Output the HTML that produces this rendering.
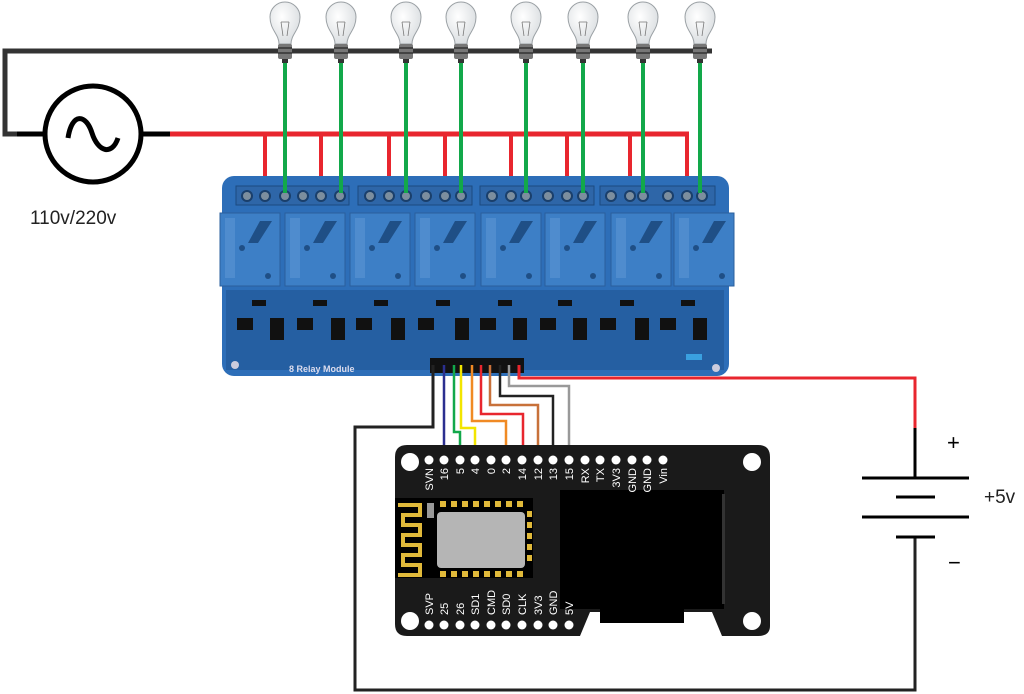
<!DOCTYPE html>
<html><head><meta charset="utf-8"><style>
html,body{margin:0;padding:0;background:#fff;}
svg{display:block;}
text{font-family:"Liberation Sans",sans-serif;}
</style></head><body>
<svg width="1024" height="694" viewBox="0 0 1024 694" xmlns="http://www.w3.org/2000/svg">
<defs>
<radialGradient id="glass" cx="0.4" cy="0.35" r="0.7"><stop offset="0" stop-color="#fff"/><stop offset="1" stop-color="#d8dcdf"/></radialGradient>
<g id="bulb">
 <path d="M-6,42 C-6,32 -15,28 -15,15 A15,15 0 1 1 15,15 C15,28 6,32 6,42 Z" fill="url(#glass)" stroke="#9aa0a4" stroke-width="1"/>
 <path d="M-4,20 L-2,34 M4,20 L2,34 M-4,20 L4,20" stroke="#777" stroke-width="0.8" fill="none"/>
 <rect x="-7" y="42" width="14" height="15" fill="#777" rx="2"/>
 <rect x="-7" y="45" width="14" height="2" fill="#444"/>
 <rect x="-7" y="50" width="14" height="2" fill="#444"/>
 <rect x="-3" y="57" width="6" height="4" fill="#333"/>
</g>
<g id="relay">
 <rect x="0" y="0" width="60" height="73" fill="#3d7fc6" stroke="#2a5f9c" stroke-width="1"/>
 <circle cx="22" cy="35" r="3" fill="#1f4f86"/>
 <circle cx="48" cy="63" r="3" fill="#1f4f86"/>
 <path d="M40,8 L52,8 L38,30 L28,30 Z" fill="#1f4f86"/>
 <rect x="5" y="5" width="10" height="60" fill="#5c95d4" opacity="0.6"/>
</g>
<g id="screw"><circle r="6" fill="#1a3f6b"/><circle r="4" fill="#7c8e9e"/></g>
</defs>

<path d="M712,51 H5 V134 H45" stroke="#333" stroke-width="5" fill="none"/>
<circle cx="93" cy="134" r="48" fill="#fff" stroke="#000" stroke-width="5"/>
<path d="M68,138 C72,112 86,114 92,133 C98,152 112,156 118,138" stroke="#000" stroke-width="5" fill="none"/>
<line x1="17" y1="134" x2="45" y2="134" stroke="#000" stroke-width="5"/>
<line x1="141" y1="134" x2="171" y2="134" stroke="#000" stroke-width="5"/>
<line x1="170" y1="134" x2="689" y2="134" stroke="#e8262e" stroke-width="5"/>
<text x="30" y="224" font-size="19" fill="#222">110v/220v</text>

<g stroke="#e8262e" stroke-width="4">
<line x1="265" y1="134" x2="265" y2="192"/><line x1="321" y1="134" x2="321" y2="192"/>
<line x1="389" y1="134" x2="389" y2="192"/><line x1="445" y1="134" x2="445" y2="192"/>
<line x1="511" y1="134" x2="511" y2="192"/><line x1="567" y1="134" x2="567" y2="192"/>
<line x1="630" y1="134" x2="630" y2="192"/><line x1="687" y1="134" x2="687" y2="192"/>
</g>

<rect x="222" y="176" width="507" height="200" rx="12" fill="#2d6eb8"/>
<rect x="226" y="290" width="498" height="80" fill="#1d4f8c" opacity="0.5"/>
<g fill="#2e66a8" stroke="#1c4a80">
<rect x="236" y="186" width="113" height="19"/><rect x="358" y="186" width="114" height="19"/>
<rect x="480" y="186" width="114" height="19"/><rect x="600" y="186" width="115" height="19"/>
</g>
<g>
<use href="#screw" x="247" y="196"/><use href="#screw" x="265" y="196"/><use href="#screw" x="285" y="196"/>
<use href="#screw" x="303" y="196"/><use href="#screw" x="321" y="196"/><use href="#screw" x="340" y="196"/>
<use href="#screw" x="370" y="196"/><use href="#screw" x="389" y="196"/><use href="#screw" x="406" y="196"/>
<use href="#screw" x="426" y="196"/><use href="#screw" x="445" y="196"/><use href="#screw" x="461" y="196"/>
<use href="#screw" x="492" y="196"/><use href="#screw" x="511" y="196"/><use href="#screw" x="526" y="196"/>
<use href="#screw" x="548" y="196"/><use href="#screw" x="567" y="196"/><use href="#screw" x="583" y="196"/>
<use href="#screw" x="611" y="196"/><use href="#screw" x="630" y="196"/><use href="#screw" x="643" y="196"/>
<use href="#screw" x="668" y="196"/><use href="#screw" x="687" y="196"/><use href="#screw" x="702" y="196"/>
</g>
<use href="#relay" x="220" y="213"/><use href="#relay" x="285" y="213"/>
<use href="#relay" x="350" y="213"/><use href="#relay" x="415" y="213"/>
<use href="#relay" x="481" y="213"/><use href="#relay" x="545" y="213"/>
<use href="#relay" x="611" y="213"/><use href="#relay" x="674" y="213"/>
<g fill="#111">
<rect x="270" y="318" width="14" height="22"/><rect x="331" y="318" width="14" height="22"/>
<rect x="391" y="318" width="14" height="22"/><rect x="455" y="318" width="14" height="22"/>
<rect x="513" y="318" width="14" height="22"/><rect x="573" y="318" width="14" height="22"/>
<rect x="635" y="318" width="14" height="22"/><rect x="693" y="318" width="14" height="22"/>
<rect x="237" y="318" width="16" height="12"/><rect x="297" y="318" width="16" height="12"/>
<rect x="356" y="318" width="16" height="12"/><rect x="418" y="318" width="16" height="12"/>
<rect x="480" y="318" width="16" height="12"/><rect x="540" y="318" width="16" height="12"/>
<rect x="600" y="318" width="16" height="12"/><rect x="660" y="318" width="16" height="12"/>
<rect x="252" y="300" width="14" height="6"/><rect x="313" y="300" width="14" height="6"/>
<rect x="374" y="300" width="14" height="6"/><rect x="436" y="300" width="14" height="6"/>
<rect x="498" y="300" width="14" height="6"/><rect x="558" y="300" width="14" height="6"/>
<rect x="620" y="300" width="14" height="6"/><rect x="681" y="300" width="14" height="6"/>
</g>
<circle cx="235" cy="365" r="4" fill="#ccd" /><circle cx="716" cy="368" r="4" fill="#ccd"/>
<text x="289" y="372" font-size="9" font-weight="bold" fill="#dde" font-family="Liberation Mono">8 Relay Module</text>
<rect x="430" y="358" width="94" height="15" fill="#111"/>
<rect x="686" y="354" width="16" height="6" fill="#3aa0e0"/>

<g stroke="#12a84a" stroke-width="4">
<line x1="285" y1="60" x2="285" y2="193"/><line x1="341" y1="60" x2="341" y2="193"/>
<line x1="406" y1="60" x2="406" y2="193"/><line x1="461" y1="60" x2="461" y2="193"/>
<line x1="526" y1="60" x2="526" y2="193"/><line x1="583" y1="60" x2="583" y2="193"/>
<line x1="643" y1="60" x2="643" y2="193"/><line x1="700" y1="60" x2="700" y2="193"/>
</g>
<use href="#bulb" x="285" y="2"/><use href="#bulb" x="341" y="2"/>
<use href="#bulb" x="406" y="2"/><use href="#bulb" x="461" y="2"/>
<use href="#bulb" x="526" y="2"/><use href="#bulb" x="583" y="2"/>
<use href="#bulb" x="643" y="2"/><use href="#bulb" x="700" y="2"/>

<g fill="none" stroke-width="2.5">
<path d="M433,365 V427 H355 V690 H915 V537" stroke="#222" stroke-width="3"/>
<path d="M444,365 V458" stroke="#2b2f8f"/>
<path d="M454,365 V432 H460 V458" stroke="#12a84a"/>
<path d="M461,365 V428 H475 V458" stroke="#f2e500"/>
<path d="M472,365 V421 H506 V458" stroke="#f08a24"/>
<path d="M481,365 V414 H523 V458" stroke="#e8262e"/>
<path d="M490,365 V405 H538 V458" stroke="#c8713a"/>
<path d="M500,365 V396 H553 V452" stroke="#222"/>
<path d="M509,365 V386 H569 V458" stroke="#999"/>
<path d="M519,365 V378 H915 V428" stroke="#e8262e" stroke-width="3"/>
</g>

<line x1="915" y1="428" x2="915" y2="478" stroke="#000" stroke-width="3"/>
<g stroke="#000" stroke-width="3">
<line x1="862" y1="478" x2="969" y2="478"/><line x1="896" y1="497" x2="935" y2="497"/>
<line x1="862" y1="517" x2="969" y2="517"/><line x1="896" y1="537" x2="935" y2="537"/>
</g>
<text x="947" y="450" font-size="22" fill="#000">+</text>
<text x="948" y="570" font-size="22" fill="#000">−</text>
<text x="984" y="503" font-size="19" fill="#222">+5v</text>

<path d="M407,445 H758 Q770,445 770,457 V626 Q770,636 758,636 H722 L712,612 H590 L580,636 H407 Q395,636 395,624 V457 Q395,445 407,445 Z" fill="#1a1a1a"/>
<g fill="#fff"><circle cx="410" cy="462" r="9"/><circle cx="752" cy="462" r="9"/><circle cx="410" cy="621" r="9"/><circle cx="752" cy="621" r="9"/></g>
<g fill="#fff">
<circle cx="429" cy="460" r="4.5"/><circle cx="444" cy="460" r="4.5"/><circle cx="460" cy="460" r="4.5"/><circle cx="475" cy="460" r="4.5"/>
<circle cx="491" cy="460" r="4.5"/><circle cx="506" cy="460" r="4.5"/><circle cx="522" cy="460" r="4.5"/><circle cx="538" cy="460" r="4.5"/>
<circle cx="553" cy="460" r="4.5"/><circle cx="569" cy="460" r="4.5"/><circle cx="585" cy="460" r="4.5"/><circle cx="600" cy="460" r="4.5"/>
<circle cx="616" cy="460" r="4.5"/><circle cx="632" cy="460" r="4.5"/><circle cx="647" cy="460" r="4.5"/><circle cx="663" cy="460" r="4.5"/>
<circle cx="429" cy="625" r="4.5"/><circle cx="444" cy="625" r="4.5"/><circle cx="460" cy="625" r="4.5"/><circle cx="475" cy="625" r="4.5"/>
<circle cx="491" cy="625" r="4.5"/><circle cx="506" cy="625" r="4.5"/><circle cx="522" cy="625" r="4.5"/><circle cx="538" cy="625" r="4.5"/>
<circle cx="553" cy="625" r="4.5"/><circle cx="569" cy="625" r="4.5"/>
</g>
<rect x="395" y="498" width="138" height="80" fill="#000"/>
<path d="M398,505 H420 V515 H403 V525 H420 V535 H403 V545 H420 V555 H403 V565 H420 V575 H398" stroke="#e0b93a" stroke-width="4" fill="none"/>
<rect x="427" y="503" width="7" height="15" fill="#999"/>
<g fill="#e0b93a">
<rect x="440" y="501" width="6" height="6"/><rect x="451" y="501" width="6" height="6"/><rect x="462" y="501" width="6" height="6"/><rect x="473" y="501" width="6" height="6"/><rect x="484" y="501" width="6" height="6"/><rect x="495" y="501" width="6" height="6"/><rect x="506" y="501" width="6" height="6"/><rect x="517" y="501" width="6" height="6"/>
<rect x="440" y="571" width="6" height="6"/><rect x="451" y="571" width="6" height="6"/><rect x="462" y="571" width="6" height="6"/><rect x="473" y="571" width="6" height="6"/><rect x="484" y="571" width="6" height="6"/><rect x="495" y="571" width="6" height="6"/><rect x="506" y="571" width="6" height="6"/><rect x="517" y="571" width="6" height="6"/>
<rect x="527" y="511" width="5" height="6"/><rect x="527" y="522" width="5" height="6"/><rect x="527" y="533" width="5" height="6"/><rect x="527" y="544" width="5" height="6"/><rect x="527" y="555" width="5" height="6"/>
</g>
<rect x="437" y="512" width="88" height="56" rx="4" fill="#b5b5b5"/>
<rect x="560" y="490" width="164" height="119" fill="#000"/>
<rect x="600" y="600" width="84" height="23" fill="#000"/>
<rect x="722" y="494" width="3" height="110" fill="#333"/>

<g fill="#fff" font-size="11" text-anchor="end">
<text transform="translate(433,468) rotate(-90)">SVN</text>
<text transform="translate(448,468) rotate(-90)">16</text>
<text transform="translate(464,468) rotate(-90)">5</text>
<text transform="translate(479,468) rotate(-90)">4</text>
<text transform="translate(495,468) rotate(-90)">0</text>
<text transform="translate(510,468) rotate(-90)">2</text>
<text transform="translate(526,468) rotate(-90)">14</text>
<text transform="translate(542,468) rotate(-90)">12</text>
<text transform="translate(557,468) rotate(-90)">13</text>
<text transform="translate(573,468) rotate(-90)">15</text>
<text transform="translate(589,468) rotate(-90)">RX</text>
<text transform="translate(604,468) rotate(-90)">TX</text>
<text transform="translate(620,468) rotate(-90)">3V3</text>
<text transform="translate(636,468) rotate(-90)">GND</text>
<text transform="translate(651,468) rotate(-90)">GND</text>
<text transform="translate(667,468) rotate(-90)">Vin</text>
</g>
<g fill="#fff" font-size="11" text-anchor="start">
<text transform="translate(433,615) rotate(-90)">SVP</text>
<text transform="translate(448,615) rotate(-90)">25</text>
<text transform="translate(464,615) rotate(-90)">26</text>
<text transform="translate(479,615) rotate(-90)">SD1</text>
<text transform="translate(495,615) rotate(-90)">CMD</text>
<text transform="translate(510,615) rotate(-90)">SD0</text>
<text transform="translate(526,615) rotate(-90)">CLK</text>
<text transform="translate(542,615) rotate(-90)">3V3</text>
<text transform="translate(557,615) rotate(-90)">GND</text>
<text transform="translate(573,615) rotate(-90)">5V</text>
</g>
</svg>
</body></html>
